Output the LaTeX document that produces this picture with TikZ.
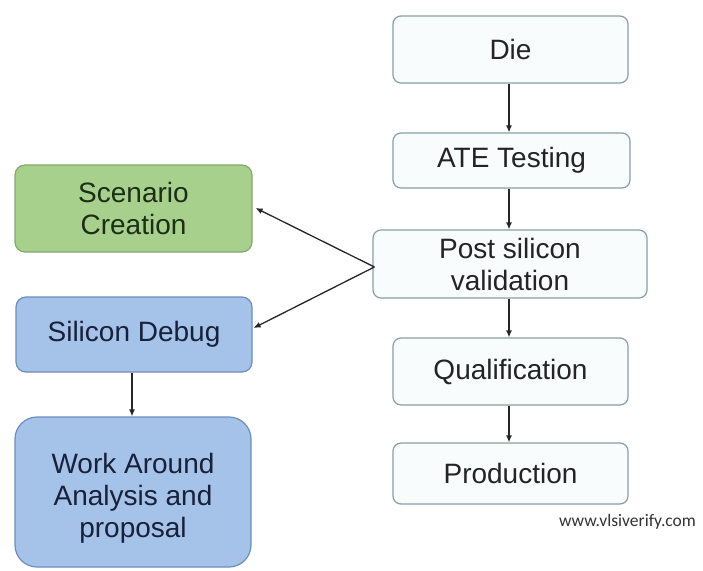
\documentclass[tikz,border=0pt]{standalone}
\usepackage{fontspec}
\setmainfont{Liberation Sans}
\newfontfamily\markfont{Carlito}
\usetikzlibrary{arrows.meta,shapes.misc}
\definecolor{flowline}{HTML}{8C9DA4}
\definecolor{flowfill}{HTML}{F8FCFD}
\definecolor{flowtext}{HTML}{242424}
\definecolor{greenfill}{HTML}{A8D08D}
\definecolor{greenline}{HTML}{86A86E}
\definecolor{greentext}{HTML}{1B2E16}
\definecolor{bluefill}{HTML}{A5C3E9}
\definecolor{blueline}{HTML}{6E8DBD}
\definecolor{bluetext}{HTML}{17213A}
\tikzset{
  every node/.style={inner sep=0pt, align=center, font=\fontsize{28}{32}\selectfont},
  flowbox/.style={draw=flowline, line width=1.2pt, fill=flowfill, rounded corners=8pt, text=flowtext},
  greenbox/.style={draw=greenline, line width=1.2pt, fill=greenfill, rounded corners=10pt, text=greentext},
  bluebox/.style={draw=blueline, line width=1.2pt, fill=bluefill, rounded corners=10pt, text=bluetext},
  link/.style={draw=black!85, line width=1.3pt, -{Latex[length=7pt,width=6pt]}},
}
\begin{document}
\begin{tikzpicture}[x=1pt,y=-1pt]
\useasboundingbox (0,0) rectangle (703,570);
\fill[white] (0,0) rectangle (703,570);

% main flow on the right
\node[flowbox, minimum width=235pt, minimum height=67pt] (die)  at (510.5,49.5)  {Die};
\node[flowbox, minimum width=237pt, minimum height=55pt] (ate)  at (511.5,160.5) {ATE Testing};
\node[flowbox, minimum width=274pt, minimum height=68pt] (post) at (510,264)     {Post silicon\\validation};
\node[flowbox, minimum width=235pt, minimum height=67pt] (qual) at (510.5,371.5) {Qualification};
\node[flowbox, minimum width=235pt, minimum height=61pt] (prod) at (510.5,473.5) {Production};

% branches on the left
\node[greenbox, minimum width=237pt, minimum height=87pt] (scen) at (133.5,208.5) {Scenario\\Creation};
\node[bluebox,  minimum width=236pt, minimum height=75pt] (dbg)  at (134,334.5)   {Silicon Debug};
\node[bluebox, rounded corners=22pt, minimum width=236pt, minimum height=150pt] (wa) at (133,492)
  {\raisebox{-6pt}[\height][\depth]{\parbox{210pt}{\centering Work Around\\Analysis and\\proposal}}};

% footer mark
\node[font=\markfont\fontsize{17.5}{20}\selectfont, text=black!80] (mark) at (627.5,522) {www.vlsiverify.com};

% connectors
\coordinate (fork) at ([xshift=2pt,yshift=-3pt]post.west);
\draw[link] (die.south -| 509,0)  -- (ate.north -| 509,0);
\draw[link] (ate.south -| 509,0)  -- (post.north -| 509,0);
\draw[link] (post.south -| 509,0) -- (qual.north -| 509,0);
\draw[link] (qual.south -| 509,0) -- (prod.north -| 509,0);
\draw[link] (fork) -- ([xshift=3pt,yshift=0.5pt]scen.east);
\draw[link] (fork) -- ([xshift=1pt,yshift=6.5pt]dbg.east);
\draw[link] (dbg.south -| 132,0) -- (wa.north -| 132,0);
\end{tikzpicture}
\end{document}
